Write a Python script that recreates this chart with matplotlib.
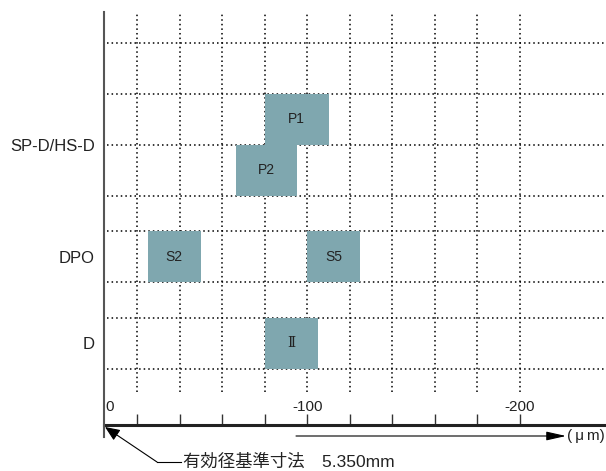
import numpy as np
import matplotlib.pyplot as plt
from matplotlib.lines import Line2D

plt.rcParams['font.family'] = ['Liberation Sans', 'Noto Sans CJK JP', 'DejaVu Sans']
plt.rcParams['axes.unicode_minus'] = False

# данные (µm, отрицательное направление вправо)
rows = ['SP-D/HS-D', 'DPO', 'D']
box_labels = ['P1', 'P2', 'S2', 'S5', 'Ⅱ']
box_rows = ['SP-D/HS-D', 'SP-D/HS-D', 'DPO', 'DPO', 'D']
box_from = [-80, -66.5, -25, -100, -80]
box_to = [-110, -95, -50, -125, -105]
x_ticks = np.arange(-20, -201, -20)
x_labels = ['-100', '-200']
ref_text = '有効径基準寸法\u30005.350mm'
unit_text = '(\u2009μ\u2009m)'

# раскладка
W, H = 606, 471
row_y = {'SP-D/HS-D': 5.5, 'DPO': 3.3, 'D': 1.6}
box_shift = [0.5, -0.5, 0, 0, 0]
hgrid = [1.1, 2.1, 2.8, 3.8, 4.5, 5.5, 6.5, 7.5]
box_color = '#7fa7af'
txt = '#222222'


def px(x, y):
    return x / W, 1 - y / H


fig = plt.figure(figsize=(W / 100, H / 100), dpi=100)
ax = fig.add_axes([104 / W, 46 / H, 502 / W, 413 / H])
ax.set_xlim(-4.4, -240.5)
ax.set_ylim(0, 8.1)

# сетка
dots = (0, (1, 2))
ax.hlines(hgrid, -6, -240.5, colors='k', linestyles=dots, lw=1.1, zorder=1)
ax.vlines(x_ticks, 0.65, 8.1, colors='k', linestyles=dots, lw=1.1, zorder=1)

# прямоугольники
for lab, r, a, b, s in zip(box_labels, box_rows, box_from, box_to, box_shift):
    yc = row_y[r] + s
    ax.barh(yc, b - a, left=a, height=1.0, color=box_color, zorder=3)
    fam = ['DejaVu Serif', 'DejaVu Sans'] if lab == 'Ⅱ' else None
    ax.text((a + b) / 2, yc, lab, ha='center', va='center', fontsize=10,
            color=txt, zorder=4, family=fam)

# оси
for side in ['top', 'right', 'left']:
    ax.spines[side].set_visible(False)
ax.spines['bottom'].set_linewidth(2.2)
ax.spines['bottom'].set_color(txt)
ax.set_xticks(x_ticks)
ax.set_xticklabels([])
ax.tick_params(axis='x', direction='in', length=8, width=1, color='#333333')
ax.set_yticks([row_y[r] for r in rows])
ax.set_yticklabels(rows, fontsize=12, color=txt)
ax.tick_params(axis='y', length=0, pad=6.5)

ax.annotate('0', xy=(-4.4, 0.36), xytext=(1, 0), textcoords='offset points',
            ha='left', va='center', fontsize=11, color=txt)
for lab in x_labels:
    ax.text(float(lab), 0.36, lab, ha='center', va='center', fontsize=11,
            color=txt)

fig.add_artist(Line2D([104 / W, 104 / W], [1 - 12 / H, 1 - 437 / H],
                      color='#555555', lw=1.5))

# стрелки и подписи внизу
ax.annotate('', xy=px(105, 427), xytext=px(157, 462), xycoords='figure fraction',
            arrowprops=dict(arrowstyle='-|>,head_length=0.9,head_width=0.38',
                            color='k', lw=0.8, shrinkA=0, shrinkB=0))
fig.add_artist(Line2D([157 / W, 181 / W], [1 - 462 / H, 1 - 462 / H],
                      color='k', lw=0.8))
fig.text(*px(183, 462), ref_text, ha='left', va='center', fontsize=12.5,
         color=txt)

ax.annotate('', xy=px(566, 436), xytext=px(296, 436), xycoords='figure fraction',
            arrowprops=dict(arrowstyle='-|>,head_length=1.2,head_width=0.27',
                            color='k', lw=0.8, shrinkA=0, shrinkB=0))
fig.text(*px(567, 436), unit_text, ha='left', va='center', fontsize=11,
         color=txt)

fig.savefig('out.png', dpi=100)
